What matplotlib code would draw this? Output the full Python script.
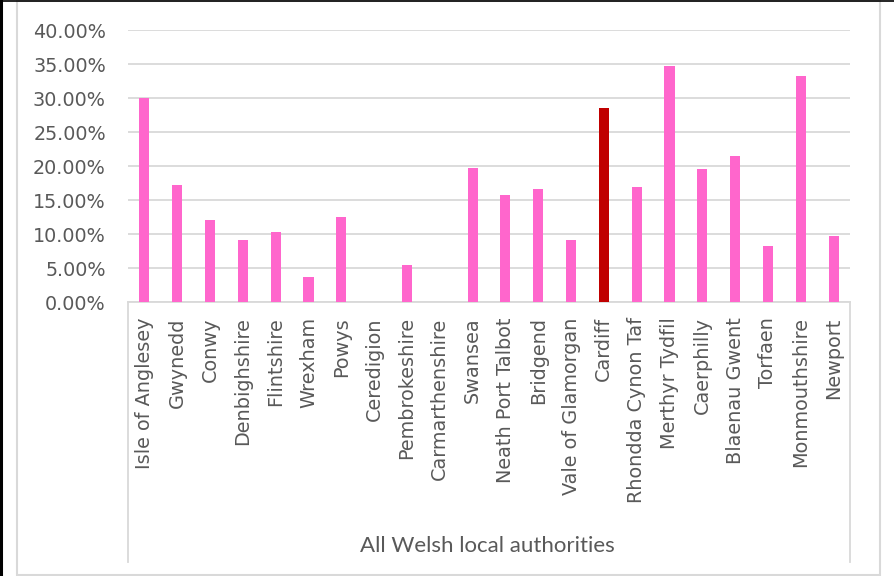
import matplotlib
matplotlib.use("Agg")
import matplotlib.pyplot as plt
from matplotlib.lines import Line2D
from matplotlib.patches import Rectangle
from matplotlib.ticker import FuncFormatter, MultipleLocator

categories = ["Isle of Anglesey", "Gwynedd", "Conwy", "Denbighshire", "Flintshire",
              "Wrexham", "Powys", "Ceredigion", "Pembrokeshire", "Carmarthenshire",
              "Swansea", "Neath Port Talbot", "Bridgend", "Vale of Glamorgan", "Cardiff",
              "Rhondda Cynon Taf", "Merthyr Tydfil", "Caerphilly", "Blaenau Gwent",
              "Torfaen", "Monmouthshire", "Newport"]
values = [0.300, 0.172, 0.120, 0.091, 0.103, 0.037, 0.125, 0.0, 0.055, 0.0,
          0.197, 0.157, 0.166, 0.091, 0.285, 0.169, 0.347, 0.195, 0.214,
          0.083, 0.333, 0.097]
highlight = "Cardiff"
axis_title = "All Welsh local authorities"

W, H = 895, 576
fig = plt.figure(figsize=(W / 100, H / 100), dpi=100)

ax_l, ax_r, ax_t, ax_b = 128, 850, 30, 302
ax = fig.add_axes([ax_l / W, 1 - ax_b / H, (ax_r - ax_l) / W, (ax_b - ax_t) / H])

pink = "#FF66CC"
red = "#C00000"
colors = [red if c == highlight else pink for c in categories]
x = list(range(len(categories)))
ax.bar(x, values, width=0.31, color=colors, zorder=3)

ax.set_xlim(-0.5, len(categories) - 0.5)
ax.set_ylim(0, 0.40)
ax.yaxis.set_major_locator(MultipleLocator(0.05))
ax.yaxis.set_major_formatter(FuncFormatter(lambda v, p: f"{v*100:.2f}%"))
ax.grid(axis="y", color="#D9D9D9", linewidth=1.3, zorder=0)
for s in ["top", "right", "left"]:
    ax.spines[s].set_visible(False)
ax.spines["bottom"].set_color("#D9D9D9")
ax.spines["bottom"].set_linewidth(1.3)

ax.set_xticks(x)
ax.set_xticklabels(categories, rotation=90, fontsize=13.9, color="#595959",
                   family="DejaVu Sans", va="top", ha="center")
ax.tick_params(axis="x", length=0, pad=11)
ax.tick_params(axis="y", length=0, pad=16, labelsize=13.8, labelcolor="#595959")

# category box verticals
for xp in (ax_l, ax_r):
    fig.add_artist(Line2D([xp / W, xp / W], [1 - ax_b / H, 1 - 562 / H],
                          color="#D9D9D9", linewidth=1.3))

fig.text((ax_l + ax_r) / 2 / W - 2 / W, 1 - 546 / H, axis_title, ha="center", va="center",
         fontsize=16, color="#595959", family="Lato")

# chart border
fig.add_artist(Rectangle((16.5 / W, 1 - 575 / H), (880 - 16.5) / W, (575 - 1) / H,
                         fill=False, edgecolor="#D9D9D9", linewidth=1.5))
fig.add_artist(Line2D([1.5 / W, 1.5 / W], [0, 1], color="black", linewidth=2.2))
fig.add_artist(Line2D([0, 1], [1 - 0.5 / H, 1 - 0.5 / H], color="black", linewidth=1.2))

fig.savefig("out.png", dpi=100)
